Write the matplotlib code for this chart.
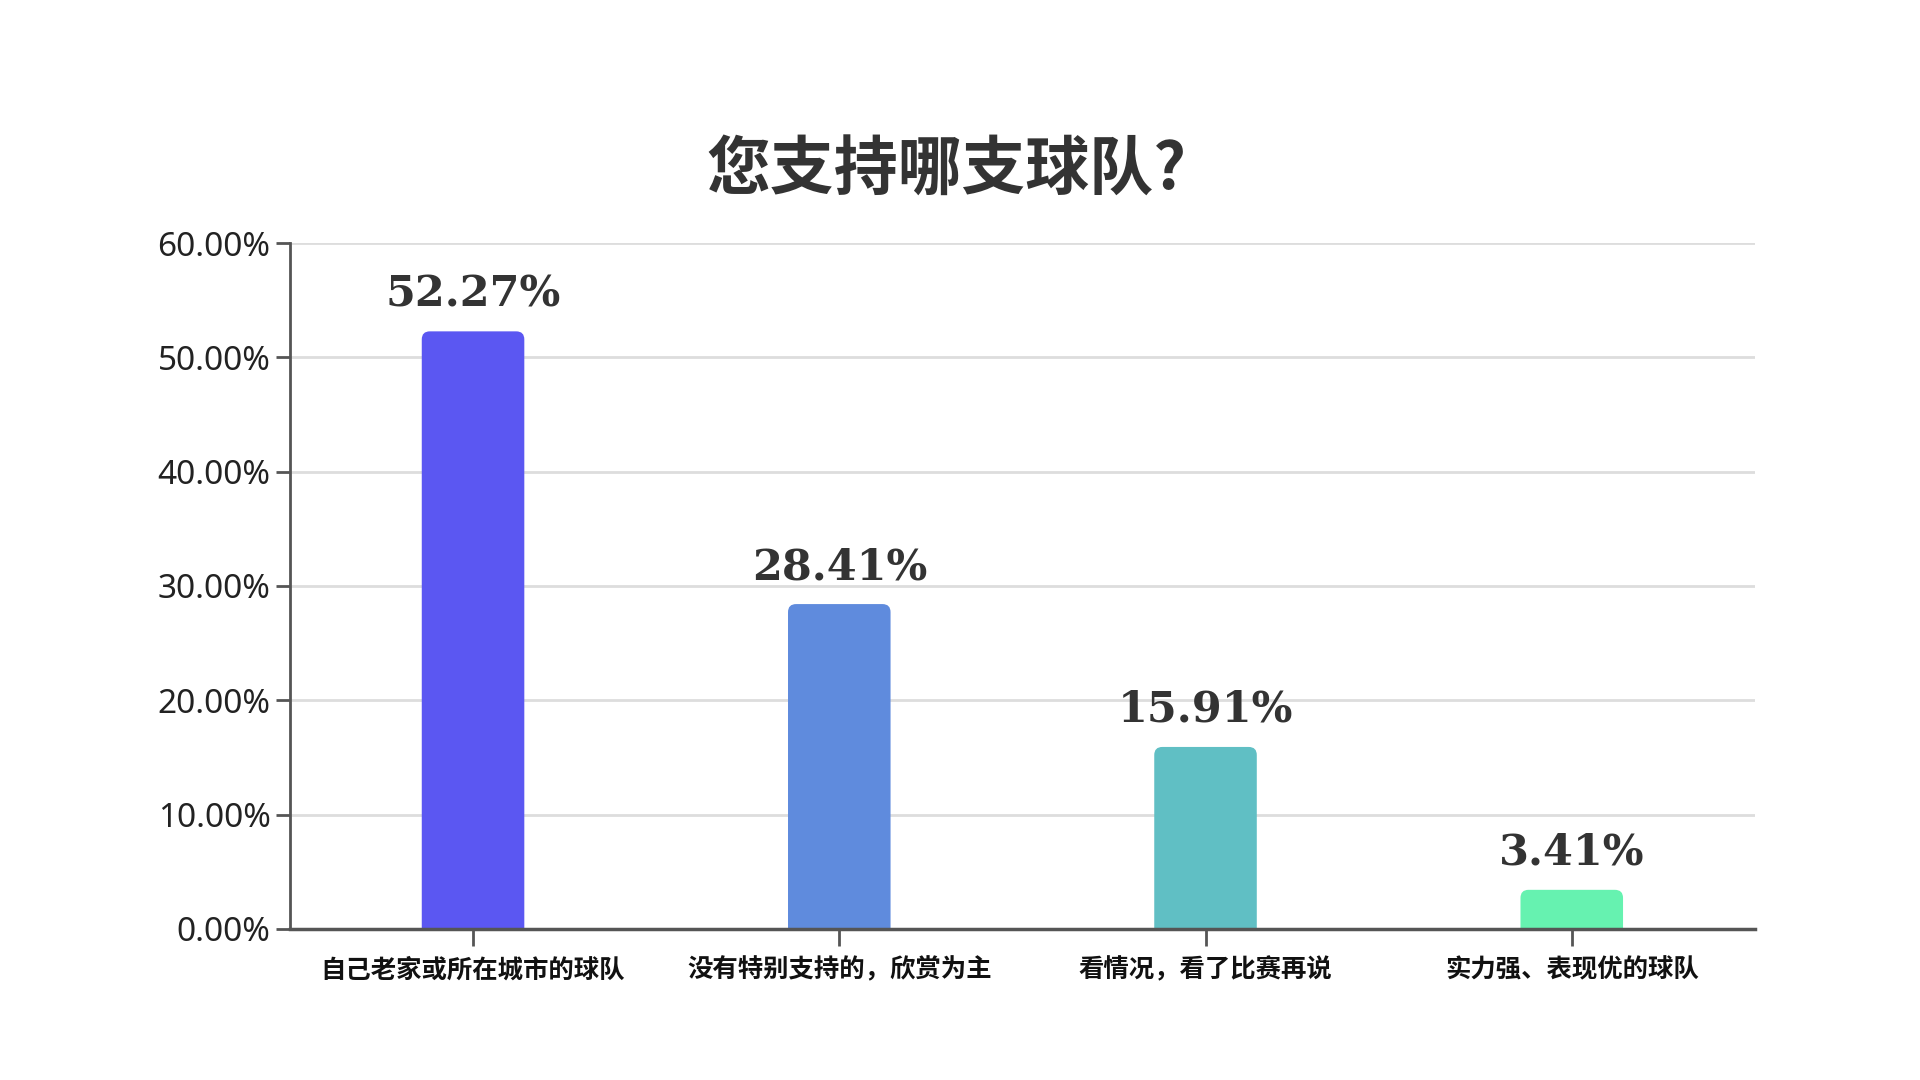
import matplotlib
matplotlib.use('Agg')
import matplotlib.pyplot as plt
from matplotlib.patches import FancyBboxPatch

title = '您支持哪支球队?'
categories = ['自己老家或所在城市的球队', '没有特别支持的，欣赏为主',
              '看情况，看了比赛再说', '实力强、表现优的球队']
values = [52.27, 28.41, 15.91, 3.41]
colors = ['#5B57F2', '#5F8BDD', '#60BFC4', '#66F2B0']
yticks = [0, 10, 20, 30, 40, 50, 60]

cjk = ['Noto Sans CJK SC', 'DejaVu Sans']
plt.rcParams['font.family'] = cjk

fig = plt.figure(figsize=(19.2, 10.8), dpi=100)
ax = fig.add_axes([0.151, 0.140, 0.763, 0.635])

x = list(range(len(categories)))
bars = ax.bar(x, values, width=0.28, color=colors, zorder=3)

# swap plain rectangles for ones with rounded top corners
r = 0.022
asp = 32
for b, c in zip(bars, colors):
    x0, w, h = b.get_x(), b.get_width(), b.get_height()
    b.set_visible(False)
    p = FancyBboxPatch((x0, -r * asp), w, h + r * asp,
                       boxstyle='round,pad=0,rounding_size=%g' % r,
                       mutation_aspect=asp, facecolor=c, edgecolor='none', zorder=3)
    ax.add_patch(p)

for xi, v in zip(x, values):
    ax.text(xi, v + 1.4, '%.2f%%' % v, ha='center', va='bottom',
            fontsize=31, fontweight='bold', family='DejaVu Serif', color='#333333')

ax.set_xlim(-0.5, 3.5)
ax.set_ylim(0, 60)
ax.set_yticks(yticks)
ax.set_yticklabels(['%.2f%%' % t for t in yticks], family='Noto Sans', fontsize=24, color='#222222')
ax.set_xticks(x)
ax.set_xticklabels(categories, fontsize=18.3, fontweight='bold', color='#111111')
ax.tick_params(axis='y', length=10, width=2, color='#555555', pad=4)
ax.tick_params(axis='x', length=12, width=2, color='#555555', pad=8)

ax.grid(axis='y', color='#dddddd', linewidth=2, zorder=0)
for s in ['top', 'right']:
    ax.spines[s].set_visible(False)
ax.spines['left'].set_color('#555555')
ax.spines['left'].set_linewidth(2)
ax.spines['bottom'].set_color('#555555')
ax.spines['bottom'].set_linewidth(2.5)
ax.spines['bottom'].set_zorder(4)

fig.text(0.493, 0.842, title, ha='center', va='center', fontsize=46,
         fontweight='bold', color='#333333')

fig.savefig('out.png', dpi=100, facecolor='white')
